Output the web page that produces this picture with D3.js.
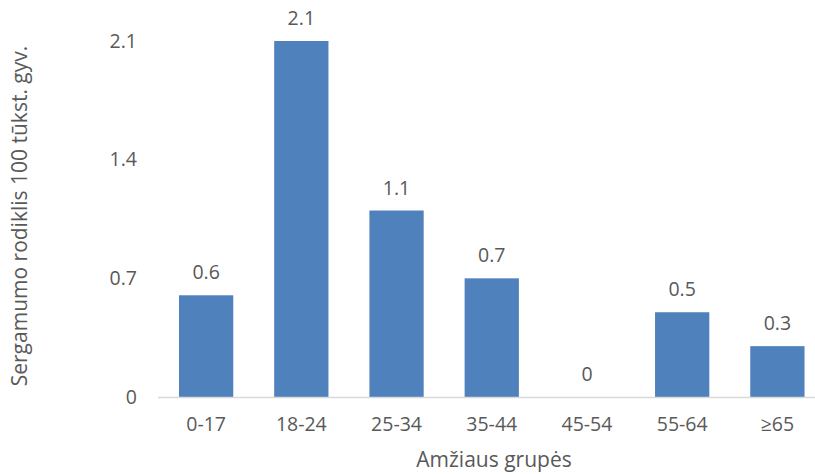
<!DOCTYPE html>
<html><head><meta charset="utf-8">
<script src="https://cdn.jsdelivr.net/npm/d3@7"></script>
<style>body{margin:0;background:#fff}svg{display:block}text{font-family:"Open Sans",sans-serif;fill:#595959}</style>
</head><body>
<script>
const categories = ["0-17","18-24","25-34","35-44","45-54","55-64","≥65"];
const values = [0.6,2.1,1.1,0.7,0,0.5,0.3];
const yTicks = [0,0.7,1.4,2.1];
const yTitle = "Sergamumo rodiklis 100 tūkst. gyv.";
const xTitle = "Amžiaus grupės";

const W=815,H=474;
const FONT='"Open Sans",sans-serif';
const TS=19.5;
const svg=d3.select("body").append("svg").attr("width",W).attr("height",H);
const x=d3.scaleBand().domain(categories).range([158.5,825]).paddingInner(0.43).paddingOuter(0.215);
const y=d3.scaleLinear().domain([0,2.1]).range([397,41]);

svg.append("g").selectAll("rect").data(values).join("rect")
 .attr("x",(d,i)=>x(categories[i])).attr("width",x.bandwidth())
 .attr("y",d=>y(d)).attr("height",d=>y(0)-y(d)).attr("fill","#4F81BD");

svg.append("line").attr("x1",158).attr("x2",W).attr("y1",y(0)+0.5).attr("y2",y(0)+0.5)
 .attr("stroke","#D9D9D9").attr("stroke-width",1.5);

const yAxis=svg.append("g").attr("transform","translate(143,0)")
 .call(d3.axisLeft(y).tickValues(yTicks).tickFormat(d=>d).tickSize(0).tickPadding(6));
yAxis.select(".domain").remove();
yAxis.selectAll("text").attr("font-size",TS).style("font-family",FONT).attr("fill","#595959");

const xAxis=svg.append("g").attr("transform",`translate(0,${y(0)})`)
 .call(d3.axisBottom(x).tickSize(0));
xAxis.select(".domain").remove();
xAxis.selectAll("text").attr("font-size",TS).style("font-family",FONT).attr("fill","#595959")
 .attr("dy",null).attr("y",34);

svg.append("g").selectAll("text").data(values).join("text")
 .attr("x",(d,i)=>x(categories[i])+x.bandwidth()/2).attr("y",d=>y(d)-16)
 .attr("text-anchor","middle").attr("font-size",TS).text(d=>d);

svg.append("text").attr("x",494).attr("y",467).attr("text-anchor","middle").attr("font-size",21).text(xTitle);
svg.append("text").attr("transform","translate(27,216) rotate(-90)").attr("text-anchor","middle").attr("font-size",21).text(yTitle);
</script>
</body></html>
